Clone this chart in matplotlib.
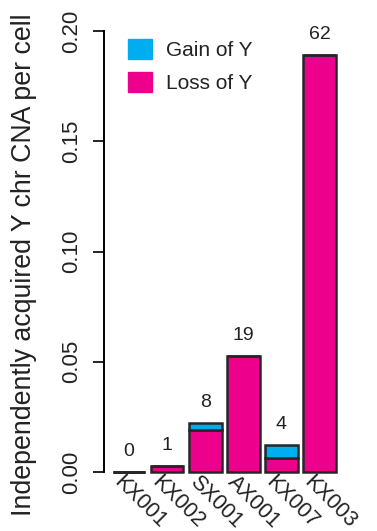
import matplotlib.pyplot as plt
import numpy as np

plt.rcParams['font.family'] = ['Liberation Sans', 'DejaVu Sans']

samples = ['KX001', 'KX002', 'SX001', 'AX001', 'KX007', 'KX003']
loss_of_y = [0.0, 0.0027, 0.019, 0.0526, 0.0062, 0.189]
gain_of_y = [0.0, 0.0, 0.003, 0.0, 0.0062, 0.0]
event_counts = [0, 1, 8, 19, 4, 62]

gain_col = '#00aeef'
loss_col = '#ec008c'
edge_col = '#262626'

fig = plt.figure(figsize=(3.77, 5.31), dpi=100)
ax = fig.add_axes([104 / 377, 53 / 531, 246 / 377, 458 / 531])

x = np.arange(len(samples))
w = 0.86
ax.bar(x, loss_of_y, width=w, color=loss_col, edgecolor=edge_col, linewidth=1.8, clip_on=False)
ax.bar(x, gain_of_y, width=w, bottom=loss_of_y, color=gain_col, edgecolor=edge_col, linewidth=1.8,
       clip_on=False)
# zero-height bars still get their outline drawn
for i in x:
    if loss_of_y[i] + gain_of_y[i] == 0:
        ax.plot([i - w / 2, i + w / 2], [0, 0], color=edge_col, lw=1.8, solid_capstyle='butt')

totals = np.array(loss_of_y) + np.array(gain_of_y)
for i, n in enumerate(event_counts):
    ax.text(i, totals[i] + 0.0055, str(n), ha='center', va='bottom', fontsize=14, color='#222222')

ax.set_xlim(-0.656, 5.8)
ax.set_ylim(-6 / 2205, 0.2 + 11 / 2205)

for s in ['top', 'right', 'bottom']:
    ax.spines[s].set_visible(False)
ax.spines['left'].set_bounds(0, 0.2)
ax.spines['left'].set_linewidth(1.4)
ax.set_yticks([0, 0.05, 0.1, 0.15, 0.2])
ax.set_yticklabels(['0.00', '0.05', '0.10', '0.15', '0.20'], rotation=90, va='center')
ax.tick_params(axis='y', length=8, width=1.4, labelsize=16, pad=8, colors='#222222')
ax.set_xticks([])

for i, s in enumerate(samples):
    ax.text(i - 0.32, -0.003, s, rotation=-45, rotation_mode='anchor', ha='left', va='center',
            fontsize=15.5, color='#222222', clip_on=False)

ax.set_ylabel('Independently acquired Y chr CNA per cell', fontsize=19.3, color='#222222')
ax.yaxis.set_label_coords(-0.272, 0.466)

# legend drawn as plain boxes
ax.legend(handles=[plt.Rectangle((0, 0), 1, 1, color=gain_col), plt.Rectangle((0, 0), 1, 1, color=loss_col)],
          labels=['Gain of Y', 'Loss of Y'], loc='upper left', bbox_to_anchor=(0.02, 1.0),
          frameon=False, fontsize=15, handlelength=1.15, handleheight=1.15, labelspacing=0.55,
          handletextpad=0.7, labelcolor='#222222')

fig.savefig('out.png', dpi=100)
